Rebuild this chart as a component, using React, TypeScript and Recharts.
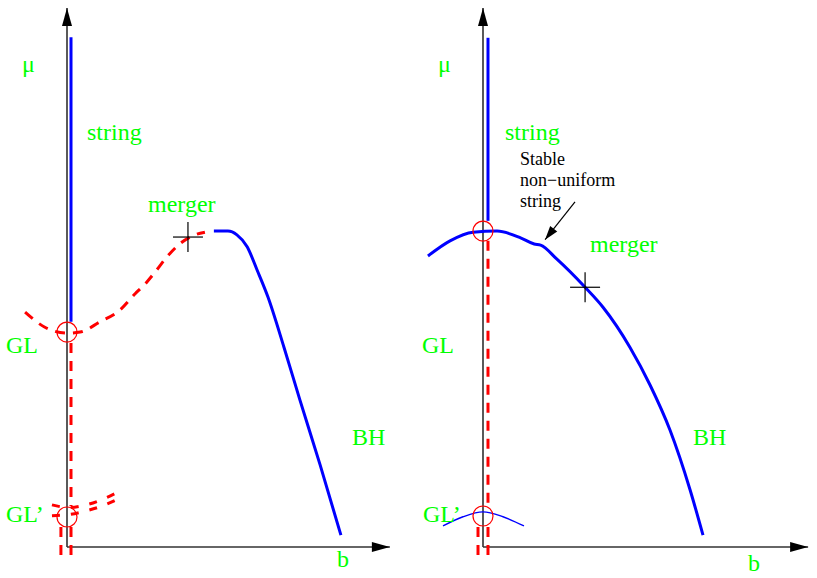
import { ComposedChart, Line, Scatter, XAxis, YAxis } from "recharts";

type Pt = { b: number; mu: number };
type ArrowPt = Pt & { angle: number };

// ---- left panel (schematic units: b along x, mu along y)
const leftAxisV: Pt[] = [{ b: 0, mu: 0 }, { b: 0, mu: 9.98 }];
const leftAxisH: Pt[] = [{ b: 0, mu: 0 }, { b: 10.09, mu: 0 }];
const leftArrows: ArrowPt[] = [
  { b: 0, mu: 9.98, angle: -90 },
  { b: 10.09, mu: 0, angle: 0 },
];
const leftString: Pt[] = [{ b: 0.125, mu: 9.44 }, { b: 0.125, mu: 4.17 }];
const leftGLStem: Pt[] = [{ b: 0.125, mu: 3.78 }, { b: 0.125, mu: 0.76 }];
const leftFootA: Pt[] = [{ b: -0.19, mu: 0.37 }, { b: -0.19, mu: -0.19 }];
const leftFootB: Pt[] = [{ b: 0.125, mu: 0.37 }, { b: 0.125, mu: -0.19 }];
const leftGL: Pt[] = [
  { b: -1.31, mu: 4.35 },
  { b: -0.69, mu: 4.07 },
  { b: 0, mu: 3.96 },
  { b: 0.41, mu: 3.98 },
  { b: 1.03, mu: 4.17 },
  { b: 1.66, mu: 4.39 },
  { b: 2.13, mu: 4.69 },
  { b: 2.44, mu: 4.87 },
  { b: 2.75, mu: 5.09 },
  { b: 3.09, mu: 5.35 },
  { b: 3.56, mu: 5.63 },
  { b: 4.0, mu: 5.78 },
  { b: 4.31, mu: 5.83 },
];
const leftBH: Pt[] = [
  { b: 4.59, mu: 5.85 },
  { b: 5.03, mu: 5.85 },
  { b: 5.31, mu: 5.78 },
  { b: 5.63, mu: 5.56 },
  { b: 5.94, mu: 5.13 },
  { b: 6.28, mu: 4.63 },
  { b: 6.78, mu: 3.7 },
  { b: 7.28, mu: 2.72 },
  { b: 7.91, mu: 1.52 },
  { b: 8.56, mu: 0.22 },
];
const leftGLPrimeUp: Pt[] = [
  { b: -0.47, mu: 0.78 },
  { b: 0.05, mu: 0.73 },
  { b: 0.6, mu: 0.78 },
  { b: 1.1, mu: 0.88 },
  { b: 1.6, mu: 1.02 },
];
const leftGLPrimeLow: Pt[] = [
  { b: -0.47, mu: 0.58 },
  { b: 0.05, mu: 0.6 },
  { b: 0.6, mu: 0.67 },
  { b: 1.1, mu: 0.76 },
  { b: 1.6, mu: 0.89 },
];
const leftCircles: Pt[] = [{ b: 0, mu: 3.98 }, { b: 0, mu: 0.556 }];
const leftMerger: Pt[] = [{ b: 3.78, mu: 5.74 }];

// ---- right panel
const rightAxisV: Pt[] = [{ b: 0, mu: 0 }, { b: 0, mu: 9.98 }];
const rightAxisH: Pt[] = [{ b: 0, mu: 0 }, { b: 10.16, mu: 0 }];
const rightArrows: ArrowPt[] = [
  { b: 0, mu: 9.98, angle: -90 },
  { b: 10.16, mu: 0, angle: 0 },
];
const rightString: Pt[] = [{ b: 0.156, mu: 9.43 }, { b: 0.156, mu: 6.04 }];
const rightGLStem: Pt[] = [{ b: 0.156, mu: 5.67 }, { b: 0.156, mu: 0.78 }];
const rightFootA: Pt[] = [{ b: -0.156, mu: 0.37 }, { b: -0.156, mu: -0.19 }];
const rightFootB: Pt[] = [{ b: 0.156, mu: 0.37 }, { b: 0.156, mu: -0.19 }];
const rightBH: Pt[] = [
  { b: -1.72, mu: 5.39 },
  { b: -1.03, mu: 5.67 },
  { b: -0.31, mu: 5.83 },
  { b: 0.44, mu: 5.85 },
  { b: 1.19, mu: 5.72 },
  { b: 1.6, mu: 5.61 },
  { b: 1.8, mu: 5.59 },
  { b: 2.31, mu: 5.33 },
  { b: 3.19, mu: 4.81 },
  { b: 3.75, mu: 4.44 },
  { b: 4.59, mu: 3.7 },
  { b: 5.22, mu: 3.0 },
  { b: 5.84, mu: 2.17 },
  { b: 6.47, mu: 1.06 },
  { b: 6.875, mu: 0.22 },
];
const rightGLPrime: Pt[] = [
  { b: -1.25, mu: 0.39 },
  { b: -0.625, mu: 0.56 },
  { b: 0, mu: 0.65 },
  { b: 0.625, mu: 0.56 },
  { b: 1.28, mu: 0.39 },
];
const rightCircles: Pt[] = [{ b: 0, mu: 5.85 }, { b: 0, mu: 0.574 }];
const rightMerger: Pt[] = [{ b: 3.19, mu: 4.81 }];
const noteLine: Pt[] = [{ b: 2.875, mu: 6.39 }, { b: 1.94, mu: 5.69 }];
const noteArrow: ArrowPt[] = [{ b: 1.94, mu: 5.69, angle: 128 }];

const GREEN = "#00ff00";
const BLUE = "#0000ff";
const RED = "#ff0000";
const FONT = "'Liberation Serif', 'Times New Roman', serif";

const triangle = (cx: number, cy: number, angle: number, len: number, half: number) => {
  const a = (angle * Math.PI) / 180;
  const c = Math.cos(a);
  const s = Math.sin(a);
  const bx = cx - len * c;
  const by = cy - len * s;
  const p1 = `${cx},${cy}`;
  const p2 = `${bx - half * s},${by + half * c}`;
  const p3 = `${bx + half * s},${by - half * c}`;
  return <polygon points={`${p1} ${p2} ${p3}`} fill="#000" />;
};

const AxisArrow = (props: any) => triangle(props.cx, props.cy, props.payload.angle, 18, 5);
const NoteArrow = (props: any) => triangle(props.cx, props.cy, props.payload.angle, 14, 4.5);

const Ring = (props: any) => (
  <circle cx={props.cx} cy={props.cy} r={10} fill="none" stroke={RED} strokeWidth={1.2} />
);

const Cross = (props: any) => (
  <g stroke="#000" strokeWidth={1.2}>
    <line x1={props.cx - 15} y1={props.cy} x2={props.cx + 15} y2={props.cy} />
    <line x1={props.cx} y1={props.cy - 15} x2={props.cx} y2={props.cy + 15} />
  </g>
);

const seg = (key: string, data: Pt[], stroke: string, width: number, dash?: string, curve = false) => (
  <Line
    key={key}
    data={data}
    dataKey="mu"
    type={curve ? "monotone" : "linear"}
    stroke={stroke}
    strokeWidth={width}
    strokeDasharray={dash}
    dot={false}
    activeDot={false}
    isAnimationActive={false}
    strokeLinecap="butt"
  />
);

const Axes = () => [
  <XAxis key="x" type="number" dataKey="b" domain={[-2, 10.5]} hide allowDataOverflow />,
  <YAxis key="y" type="number" dataKey="mu" domain={[-0.5, 10]} hide allowDataOverflow width={0} />,
];

const LeftPanel = () => (
  <ComposedChart width={408} height={578} margin={{ top: 7, right: 5, bottom: 4, left: 3 }}>
    {Axes()}
    {seg("av", leftAxisV, "#000", 1.3)}
    {seg("ah", leftAxisH, "#333", 1.6)}
    {seg("str", leftString, BLUE, 3)}
    {seg("stem", leftGLStem, RED, 3, "10 8")}
    {seg("fa", leftFootA, RED, 3, "10 8")}
    {seg("fb", leftFootB, RED, 3, "10 8")}
    {seg("gl", leftGL, RED, 3, "10 8", true)}
    {seg("bh", leftBH, BLUE, 3, undefined, true)}
    {seg("glu", leftGLPrimeUp, RED, 3, "8 11", true)}
    {seg("gll", leftGLPrimeLow, RED, 3, "8 11", true)}
    <Scatter data={leftCircles} dataKey="mu" shape={Ring} isAnimationActive={false} />
    <Scatter data={leftMerger} dataKey="mu" shape={Cross} isAnimationActive={false} />
    <Scatter data={leftArrows} dataKey="mu" shape={AxisArrow} isAnimationActive={false} />
  </ComposedChart>
);

const RightPanel = () => (
  <ComposedChart width={403} height={578} margin={{ top: 7, right: 0, bottom: 4, left: 3 }}>
    {Axes()}
    {seg("av", rightAxisV, "#000", 1.3)}
    {seg("ah", rightAxisH, "#333", 1.6)}
    {seg("str", rightString, BLUE, 3)}
    {seg("stem", rightGLStem, RED, 3, "10 8")}
    {seg("fa", rightFootA, RED, 3, "10 8")}
    {seg("fb", rightFootB, RED, 3, "10 8")}
    {seg("bh", rightBH, BLUE, 3, undefined, true)}
    {seg("glp", rightGLPrime, BLUE, 1.4, undefined, true)}
    {seg("note", noteLine, "#000", 1.2)}
    <Scatter data={rightCircles} dataKey="mu" shape={Ring} isAnimationActive={false} />
    <Scatter data={rightMerger} dataKey="mu" shape={Cross} isAnimationActive={false} />
    <Scatter data={rightArrows} dataKey="mu" shape={AxisArrow} isAnimationActive={false} />
    <Scatter data={noteArrow} dataKey="mu" shape={NoteArrow} isAnimationActive={false} />
  </ComposedChart>
);

const labels = [
  { t: "μ", x: 22, y: 72 },
  { t: "string", x: 87, y: 140 },
  { t: "merger", x: 148, y: 212 },
  { t: "GL", x: 6, y: 353 },
  { t: "GL’", x: 6, y: 522 },
  { t: "BH", x: 352, y: 445 },
  { t: "b", x: 337, y: 567 },
  { t: "μ", x: 438, y: 72 },
  { t: "string", x: 505, y: 140 },
  { t: "merger", x: 590, y: 252 },
  { t: "GL", x: 422, y: 353 },
  { t: "GL’", x: 423, y: 522 },
  { t: "BH", x: 693, y: 445 },
  { t: "b", x: 748, y: 571 },
];
const note = ["Stable", "non−uniform", "string"];

export default function App() {
  return (
    <div
      style={{
        position: "absolute",
        left: 0,
        top: 0,
        width: 817,
        height: 578,
        overflow: "hidden",
        background: "#fff",
      }}
    >
      <div style={{ position: "absolute", left: 0, top: 0 }}>
        <LeftPanel />
      </div>
      <div style={{ position: "absolute", left: 416, top: 0 }}>
        <RightPanel />
      </div>
      <svg
        width={817}
        height={578}
        style={{ position: "absolute", left: 0, top: 0, pointerEvents: "none" }}
      >
        {labels.map((l, i) => (
          <text key={i} x={l.x} y={l.y} fill={GREEN} fontSize={24} fontFamily={FONT}>
            {l.t}
          </text>
        ))}
        {note.map((t, i) => (
          <text key={t} x={520} y={165 + i * 21} fill="#000" fontSize={18} fontFamily={FONT}>
            {t}
          </text>
        ))}
      </svg>
    </div>
  );
}
